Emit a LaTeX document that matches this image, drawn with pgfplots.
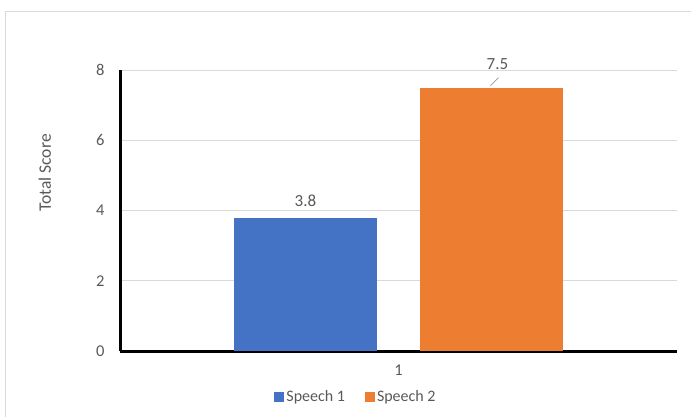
\documentclass[border=0pt]{standalone}
\usepackage{fontspec}
\setmainfont{Carlito}
\usepackage{pgfplots}
\pgfplotsset{compat=1.18}
\definecolor{c1}{HTML}{4472C4}
\definecolor{c2}{HTML}{ED7D31}
\definecolor{txt}{HTML}{595959}
\definecolor{grd}{HTML}{D9D9D9}
\begin{document}
\begin{tikzpicture}[font=\fontsize{16pt}{19pt}\selectfont]
\useasboundingbox (0,0) rectangle (691pt,416pt);
\draw[grd, line width=1pt] (5pt,-2pt) -- (5pt,404pt) -- (695pt,404pt);
\begin{axis}[
  at={(120pt,65pt)}, anchor=south west, scale only axis,
  width=557pt, height=281pt,
  ybar=43pt, bar width=143pt,
  xmin=-0.5, xmax=0.5, ymin=0, ymax=8,
  xtick={0}, xticklabels={1}, ytick={0,2,4,6,8},
  ymajorgrids, grid style={grd, line width=1pt},
  axis x line*=bottom, axis y line*=left,
  axis line style={black, line width=3pt, -},
  major tick length=0pt,
  /pgf/number format/assume math mode=true,
  tick label style={text=txt, font=\fontsize{16.5pt}{19pt}\selectfont},
  yticklabel style={xshift=-12pt},
  xticklabel style={yshift=-10pt},
  ylabel={Total Score},
  ylabel style={at={(rel axis cs:-0.135,0.634)}, anchor=center, text=txt, font=\fontsize{17.5pt}{20pt}\selectfont},
  legend style={at={(axis description cs:0.4237,-0.1637)}, anchor=center, draw=none, fill=none,
    legend columns=2, /tikz/every even column/.append style={column sep=18pt},
    font=\fontsize{16pt}{19pt}\selectfont, text=txt},
  legend image code/.code={\fill[#1] (0pt,-5pt) rectangle (10pt,5pt);},
]
\addplot[fill=c1, draw=none, nodes near coords,
  every node near coord/.append style={anchor=center, yshift=17pt, text=txt, font=\fontsize{17pt}{19pt}\selectfont}]
  coordinates {(0,3.8)};
\addplot[fill=c2, draw=none, nodes near coords,
  every node near coord/.append style={anchor=center, yshift=23pt, xshift=6pt, text=txt, font=\fontsize{17pt}{19pt}\selectfont,
    append after command={([xshift=1pt,yshift=-13pt]\tikzlastnode.center) edge[draw=gray!80, line width=0.8pt] ([xshift=-7pt,yshift=-21pt]\tikzlastnode.center)}}]
  coordinates {(0,7.5)};
\legend{Speech 1, Speech 2}
\end{axis}
\end{tikzpicture}
\end{document}
